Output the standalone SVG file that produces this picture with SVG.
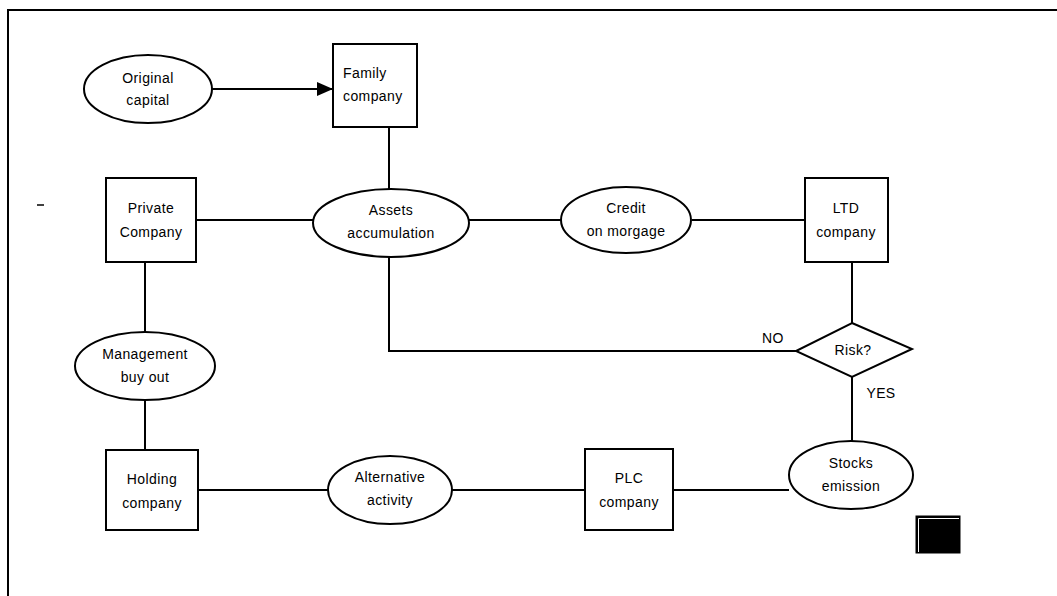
<svg xmlns="http://www.w3.org/2000/svg" width="1057" height="596" viewBox="0 0 1057 596">
<style>
.n{fill:#fff;stroke:#000;stroke-width:2}
.c{fill:none;stroke:#000;stroke-width:2}
text{font-family:"Liberation Sans",Arial,sans-serif;font-size:14px;fill:#000;text-anchor:middle;letter-spacing:0.4px}
</style>
<defs>
<marker id="arr" viewBox="0 0 16 14" refX="16" refY="7" markerWidth="16" markerHeight="14" markerUnits="userSpaceOnUse" orient="auto">
<path d="M0,0 L16,7 L0,14 Z" fill="#000"/>
</marker>
</defs>
<rect width="1057" height="596" fill="#fff"/>
<g id="frame">
<path class="c" d="M8,596 V10 H1057"/>
<path d="M37,205 H44" stroke="#000" stroke-width="1.5"/>
</g>
<g id="connectors">
<path class="c" d="M212,89 H333" marker-end="url(#arr)" />
<path class="c" d="M389,127 V189"/>
<path class="c" d="M196,220 H313"/>
<path class="c" d="M469,220 H561"/>
<path class="c" d="M692,220 H805"/>
<path class="c" d="M852,262 V323"/>
<path class="c" d="M796,351 H389 V256"/>
<path class="c" d="M852,377 V441"/>
<path class="c" d="M145,262 V333"/>
<path class="c" d="M145,400 V450"/>
<path class="c" d="M198,490 H328"/>
<path class="c" d="M452,490 H585"/>
<path class="c" d="M673,490 H789"/>
</g>
<g id="original-capital">
<ellipse class="n" cx="148" cy="89" rx="64" ry="34"/>
<text x="148" y="83">Original</text>
<text x="148" y="105">capital</text>
</g>
<g id="family-company">
<rect class="n" x="333" y="44" width="84" height="83"/>
<text x="343" y="78" style="text-anchor:start">Family</text>
<text x="343" y="101" style="text-anchor:start">company</text>
</g>
<g id="private-company">
<rect class="n" x="106" y="178" width="90" height="84"/>
<text x="151" y="213">Private</text>
<text x="151" y="237">Company</text>
</g>
<g id="assets-accumulation">
<ellipse class="n" cx="391" cy="223" rx="78" ry="34"/>
<text x="391" y="215">Assets</text>
<text x="391" y="238">accumulation</text>
</g>
<g id="credit-on-morgage">
<ellipse class="n" cx="626" cy="220" rx="65" ry="33"/>
<text x="626" y="213">Credit</text>
<text x="626" y="236">on morgage</text>
</g>
<g id="ltd-company">
<rect class="n" x="805" y="178" width="83" height="84"/>
<text x="846" y="213">LTD</text>
<text x="846" y="237">company</text>
</g>
<g id="risk">
<polygon class="n" points="852,323 912,349 852,377 796,351"/>
<text x="853" y="355">Risk?</text>
<text x="773" y="343">NO</text>
<text x="881" y="398">YES</text>
</g>
<g id="management-buy-out">
<ellipse class="n" cx="145" cy="366" rx="70" ry="34"/>
<text x="145" y="359">Management</text>
<text x="145" y="382">buy out</text>
</g>
<g id="holding-company">
<rect class="n" x="106" y="450" width="92" height="80"/>
<text x="152" y="484">Holding</text>
<text x="152" y="508">company</text>
</g>
<g id="alternative-activity">
<ellipse class="n" cx="390" cy="490" rx="62" ry="34"/>
<text x="390" y="482">Alternative</text>
<text x="390" y="505">activity</text>
</g>
<g id="plc-company">
<rect class="n" x="585" y="449" width="88" height="81"/>
<text x="629" y="483">PLC</text>
<text x="629" y="507">company</text>
</g>
<g id="stocks-emission">
<ellipse class="n" cx="851" cy="475" rx="62" ry="34"/>
<text x="851" y="468">Stocks</text>
<text x="851" y="491">emission</text>
</g>
<g id="black-square">
<rect x="916" y="516" width="44" height="37" fill="#000" stroke="#000" stroke-width="1"/>
<path d="M918.5,552 V518.5 H959" stroke="#fff" stroke-width="1" fill="none"/>
</g>
</svg>
